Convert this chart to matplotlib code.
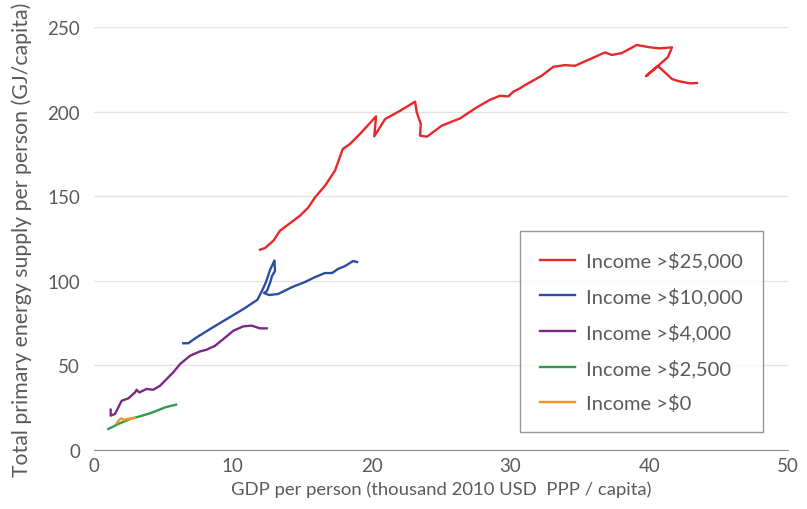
import matplotlib
matplotlib.use("Agg")
import matplotlib.pyplot as plt

# GDP per person (thousand 2010 USD PPP) vs primary energy supply (GJ/capita)
red_x = [11.96, 12.32, 12.92, 13.40, 13.88, 14.84, 15.44, 15.92, 16.64, 17.36,
         17.92, 18.44, 19.16, 20.32, 20.19, 20.97, 22.05, 23.13, 23.25, 23.54,
         23.49, 23.99, 25.05, 26.37, 27.57, 28.53, 29.25, 29.85, 30.21, 30.69,
         31.05, 32.25, 33.09, 33.93, 34.65, 36.82, 37.30, 38.02, 39.10, 40.06,
         40.78, 41.64, 41.35, 40.63, 39.77, 40.63, 41.64, 42.07, 42.94, 43.44]
red_y = [118.4, 119.4, 123.7, 129.6, 132.6, 138.5, 143.4, 149.3, 156.2, 165.1,
         177.9, 180.9, 186.8, 197.2, 185.4, 195.6, 200.5, 205.9, 199.6, 192.7,
         185.8, 185.2, 191.7, 196.0, 202.5, 207.0, 209.4, 209.0, 211.8, 213.8,
         215.7, 221.2, 226.5, 227.5, 227.1, 235.0, 233.5, 234.6, 239.4, 238.0,
         237.4, 238.0, 232.3, 227.0, 221.0, 227.0, 219.3, 218.1, 216.7, 216.9]

blue_x = [6.43, 6.79, 7.40, 8.36, 9.56, 10.76, 11.77, 12.10, 12.39, 12.68,
          13.00, 13.04, 12.82, 12.68, 12.46, 12.25, 12.61, 13.26, 14.27, 15.20,
          15.92, 16.64, 17.15, 17.58, 18.08, 18.66, 18.95]
blue_y = [63.1, 63.1, 66.6, 71.5, 77.4, 83.3, 88.8, 94.0, 99.3, 106.4,
          112.0, 105.8, 102.8, 98.7, 94.0, 92.8, 91.6, 92.2, 96.3, 99.3,
          102.2, 104.6, 104.6, 107.0, 108.7, 111.7, 111.1]

purple_x = [1.20, 1.20, 1.51, 1.99, 2.47, 2.95, 3.07, 3.26, 3.79, 4.27,
            4.76, 5.24, 5.71, 6.20, 6.92, 7.64, 8.12, 8.72, 9.32, 10.04,
            10.76, 11.36, 11.96, 12.44]
purple_y = [23.8, 20.3, 21.3, 29.1, 30.5, 34.0, 35.6, 34.0, 36.1, 35.6,
            38.0, 42.0, 45.9, 50.8, 55.7, 58.3, 59.3, 61.6, 65.6, 70.5,
            73.1, 73.5, 71.9, 71.9]

green_x = [1.03, 1.75, 2.59, 3.31, 4.03, 4.52, 5.12, 5.60, 5.91]
green_y = [12.4, 15.4, 18.3, 19.9, 21.7, 23.2, 25.2, 26.2, 26.8]

orange_x = [1.63, 1.80, 1.99, 2.16, 2.38, 2.67, 2.95]
orange_y = [15.7, 17.7, 18.7, 17.7, 18.3, 18.6, 19.2]

series = [
    ("Income >$25,000", red_x, red_y, "#e8272b"),
    ("Income >$10,000", blue_x, blue_y, "#2b4ea2"),
    ("Income >$4,000", purple_x, purple_y, "#7a2a85"),
    ("Income >$2,500", green_x, green_y, "#2e9b4f"),
    ("Income >$0", orange_x, orange_y, "#f7941d"),
]

text_color = "#5a5a5a"
plt.rcParams['font.family'] = ['Lato', 'DejaVu Sans']

fig = plt.figure(figsize=(8.07, 5.10), dpi=100)
ax = fig.add_axes([0.1165, 0.1157, 0.86, 0.8293])

for label, xs, ys, color in series:
    ax.plot(xs, ys, color=color, linewidth=1.7, label=label, solid_joinstyle='round')

ax.set_xlim(0, 50)
ax.set_ylim(0, 250)
ax.set_xticks(range(0, 51, 10))
ax.set_yticks(range(0, 251, 50))

ax.grid(axis='y', color='#e4e4e4', linewidth=1)
ax.set_axisbelow(True)
for side in ['top', 'right', 'left']:
    ax.spines[side].set_visible(False)
ax.spines['bottom'].set_color('#8c8c8c')
ax.tick_params(axis='x', length=0, pad=5, labelsize=13.5, colors=text_color)
ax.tick_params(axis='y', length=0, pad=10, labelsize=13.5, colors=text_color)

ax.set_xlabel("GDP per person (thousand 2010 USD  PPP / capita)", fontsize=13.3,
              color=text_color, labelpad=5)
ax.set_ylabel("Total primary energy supply per person (GJ/capita)", fontsize=15.3,
              color=text_color, labelpad=11)

leg = ax.legend(loc='upper left', bbox_to_anchor=(0.614, 0.518), borderaxespad=0,
                fontsize=14.5, frameon=True, fancybox=False, handlelength=1.7,
                labelspacing=0.85, borderpad=1.0, handletextpad=0.55)
leg.get_frame().set_edgecolor('#7f7f7f')
leg.get_frame().set_linewidth(1.0)
for t in leg.get_texts():
    t.set_color(text_color)

fig.savefig("out.png", dpi=100)
